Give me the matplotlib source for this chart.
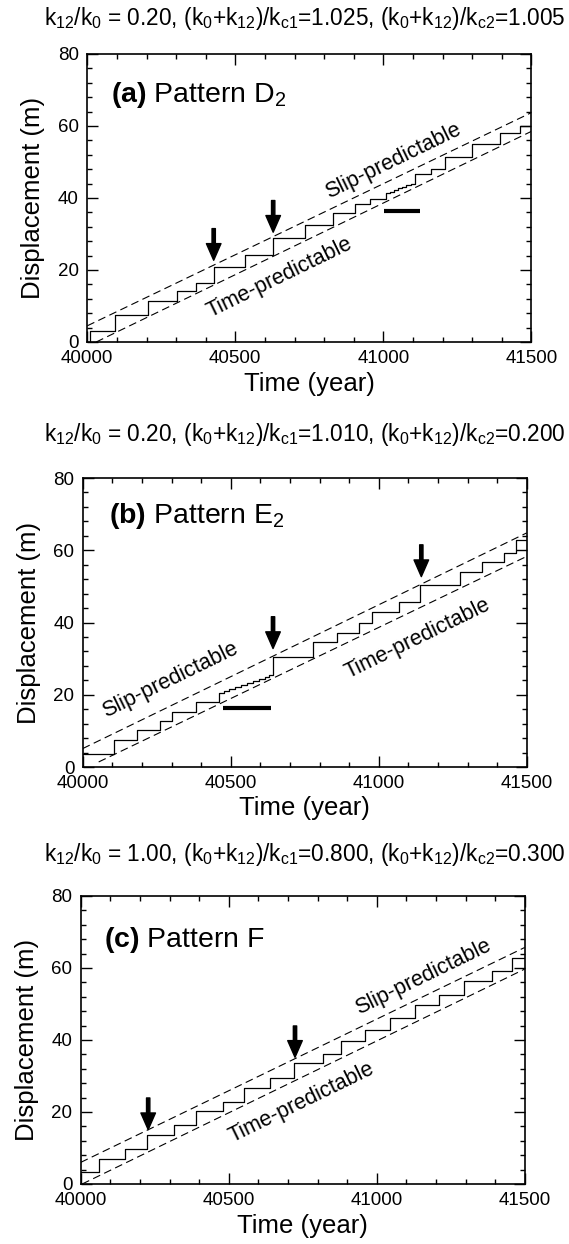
import numpy as np
import matplotlib
matplotlib.use("Agg")
import matplotlib.pyplot as plt
from matplotlib.ticker import MultipleLocator

plt.rcParams['font.family'] = ['Liberation Sans', 'DejaVu Sans']
plt.rcParams['mathtext.fontset'] = 'custom'
plt.rcParams['mathtext.rm'] = 'Liberation Sans'
plt.rcParams['mathtext.it'] = 'Liberation Sans:italic'
plt.rcParams['mathtext.bf'] = 'Liberation Sans:bold'

# --- data ---
# staircase: time of each event and displacement level after it
times_a = [40000, 40009, 40095, 40204, 40304, 40367, 40427, 40534, 40628, 40736,
           40831, 40905, 40956, 41009, 41022, 41036, 41050, 41064, 41078, 41092,
           41106, 41160, 41210, 41298, 41394, 41463, 41500]
disp_a = [0.0, 3.0, 7.4, 11.3, 14.2, 16.4, 20.8, 24.2, 28.8, 32.4,
          35.8, 38.2, 39.8, 41.3, 41.8, 42.3, 42.7, 43.1, 43.5, 44.0,
          46.6, 48.0, 51.3, 54.9, 58.0, 60.1, 60.1]

times_b = [40000, 40107, 40184, 40260, 40303, 40383, 40462, 40478, 40495, 40515,
           40535, 40555, 40575, 40595, 40615, 40630, 40643, 40778, 40859, 40935,
           40978, 41070, 41140, 41273, 41349, 41424, 41463, 41500]
disp_b = [3.5, 7.6, 10.2, 12.7, 15.3, 17.9, 20.6, 21.1, 21.6, 22.1,
          22.7, 23.2, 23.7, 24.3, 24.9, 25.5, 30.5, 34.5, 37.2, 39.8,
          42.8, 45.7, 50.4, 54.1, 56.8, 59.2, 62.7, 62.7]

times_c = [40000, 40063, 40151, 40224, 40314, 40390, 40482, 40552, 40638, 40721,
           40817, 40878, 40960, 41046, 41128, 41212, 41295, 41390, 41457, 41500]
disp_c = [3.2, 7.0, 9.7, 13.7, 16.3, 20.2, 22.9, 26.6, 29.4, 33.6,
          36.1, 39.6, 42.8, 46.1, 49.8, 52.5, 56.5, 59.2, 62.9, 62.9]

# slip-predictable / time-predictable lines (end points)
slip_a = ([40000, 41500], [4.5, 63.7])
time_a = ([40030, 41500], [0.0, 58.5])
slip_b = ([40000, 41500], [5.1, 64.8])
time_b = ([40054, 41500], [1.4, 58.3])
slip_c = ([40000, 41500], [6.0, 65.7])
time_c = ([40005, 41500], [0.0, 59.7])

# arrows: (time, tail, tip)
arrows_a = [(40427, 31.5, 22.7), (40628, 39.3, 30.5)]
arrows_b = [(40643, 41.6, 32.8), (41144, 61.5, 52.7)]
arrows_c = [(40228, 23.9, 15.1), (40724, 43.9, 35.2)]

# thick bars: (t0, t1, level)
bar_a = (41003, 41125, 36.5)
bar_b = (40475, 40635, 16.4)

# label centres
slip_lbl = [(41035, 50.4), (40297, 24.0), (41157, 57.6)]
time_lbl = [(40650, 18.0), (41132, 35.6), (40746, 22.5)]

titles = [r'k$_{12}$/k$_0$ = 0.20, (k$_0$+k$_{12}$)/k$_\mathrm{c1}$=1.025, (k$_0$+k$_{12}$)/k$_\mathrm{c2}$=1.005',
          r'k$_{12}$/k$_0$ = 0.20, (k$_0$+k$_{12}$)/k$_\mathrm{c1}$=1.010, (k$_0$+k$_{12}$)/k$_\mathrm{c2}$=0.200',
          r'k$_{12}$/k$_0$ = 1.00, (k$_0$+k$_{12}$)/k$_\mathrm{c1}$=0.800, (k$_0$+k$_{12}$)/k$_\mathrm{c2}$=0.300']
panel_names = [r'$\mathbf{(a)}$ Pattern D$_2$', r'$\mathbf{(b)}$ Pattern E$_2$', r'$\mathbf{(c)}$ Pattern F']
panel_pos = [(40080, 66.7), (40090, 67.6), (40080, 65.8)]

fig = plt.figure(figsize=(5.69, 12.44), dpi=100)
rects = [[87.3/569, 1-342/1244, 444/569, 288/1244],
         [82.7/569, 1-767/1244, 444/569, 289/1244],
         [80.7/569, 1-1184/1244, 444/569, 288/1244]]
title_y = [1-18/1244, 1-435/1244, 1-855/1244]

data = [(times_a, disp_a, slip_a, time_a, arrows_a, bar_a),
        (times_b, disp_b, slip_b, time_b, arrows_b, bar_b),
        (times_c, disp_c, slip_c, time_c, arrows_c, None)]

for i, (tt, dd, sl, tl, arr, bar) in enumerate(data):
    ax = fig.add_axes(rects[i])
    ax.step(tt, dd, where='post', color='black', lw=0.9)
    ax.plot(sl[0], sl[1], color='black', lw=0.8, ls=(0, (7, 4)))
    ax.plot(tl[0], tl[1], color='black', lw=0.8, ls=(0, (7, 4)))
    for t, y0, y1 in arr:
        ax.annotate('', xy=(t, y1), xytext=(t, y0),
                    arrowprops=dict(facecolor='black', edgecolor='black', width=2.4,
                                    headwidth=10.5, headlength=12, shrink=0))
    if bar is not None:
        ax.plot([bar[0], bar[1]], [bar[2], bar[2]], color='black', lw=3, solid_capstyle='butt')

    ax.text(slip_lbl[i][0], slip_lbl[i][1], 'Slip-predictable', fontsize=15.5,
            rotation=26, ha='center', va='center', rotation_mode='anchor')
    ax.text(time_lbl[i][0], time_lbl[i][1], 'Time-predictable', fontsize=15.5,
            rotation=26, ha='center', va='center', rotation_mode='anchor')
    ax.text(panel_pos[i][0], panel_pos[i][1], panel_names[i], fontsize=20.5,
            ha='left', va='baseline')

    ax.set_xlim(40000, 41500)
    ax.set_ylim(0, 80)
    ax.set_xticks([40000, 40500, 41000, 41500])
    ax.set_yticks([0, 20, 40, 60, 80])
    ax.xaxis.set_minor_locator(MultipleLocator(100))
    ax.yaxis.set_minor_locator(MultipleLocator(4))
    ax.tick_params(which='both', direction='in', top=True, right=True, width=1.0)
    ax.tick_params(which='major', length=7.7, labelsize=13.5, pad=6)
    ax.tick_params(which='minor', length=3.6)
    for s in ax.spines.values():
        s.set_linewidth(1.2)
    ax.set_xlabel('Time (year)', fontsize=18.5, labelpad=3)
    ax.set_ylabel('Displacement (m)', fontsize=18.5, labelpad=9)

    fig.text(0.535, title_y[i], titles[i], fontsize=16.3, ha='center', va='center')

fig.savefig('out.png', dpi=100)
